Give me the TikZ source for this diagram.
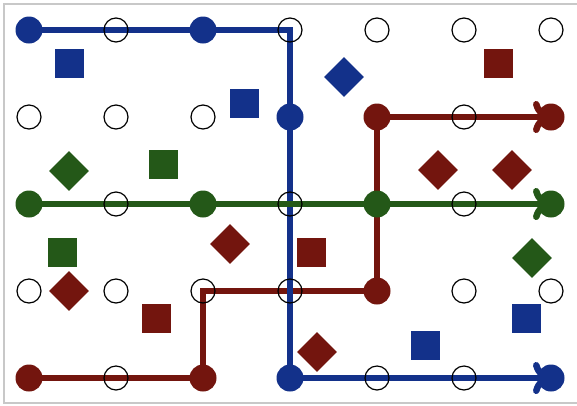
\documentclass[tikz,border=0pt]{standalone}
\usetikzlibrary{arrows.meta}
\definecolor{cblue}{RGB}{19,49,138}
\definecolor{cred}{RGB}{115,21,14}
\definecolor{cgreen}{RGB}{36,88,24}
\definecolor{frame}{RGB}{200,200,200}
\begin{document}
\begin{tikzpicture}[x=1pt,y=-1pt,
  route/.style={line width=6.5pt,draw=#1},
  arr/.style={-{Computer Modern Rightarrow[length=18pt,width=32pt,round]}},
  dot/.style={circle,fill=#1,minimum size=27pt,inner sep=0pt},
  hole/.style={circle,draw=black,line width=1.2pt,minimum size=24pt,inner sep=0pt},
  sq/.style={rectangle,fill=#1,minimum size=29pt,inner sep=0pt},
  dia/.style={rectangle,fill=#1,minimum size=28pt,inner sep=0pt,rotate=45},
]
\useasboundingbox (0,0) rectangle (577,405);
\fill[white] (0,0) rectangle (577,405);
\begin{scope}
\clip (0,0) rectangle (577,405);
\draw[frame,line width=1.6pt] (4,4) rectangle (590,403);
\end{scope}
% grid coordinates
\foreach \c in {0,...,6}{
  \foreach \r in {0,...,4}{
    \coordinate (g-\c-\r) at ({29+87*\c},{30+87*\r});
  }
}
% routes
\draw[route=cred] (g-0-4) -- (g-2-4) -- (g-2-3) -- (g-4-3);
\draw[route=cred,arr] (g-4-3) -- (g-4-1) -- (g-6-1);
\draw[route=cblue,arr] (g-0-0) -- (g-3-0) -- (g-3-4) -- (g-6-4);
\draw[route=cgreen,arr] (g-0-2) -- (g-6-2);
% empty grid points
\foreach \c/\r in {1/0,3/0,4/0,5/0,6/0,
                   0/1,1/1,2/1,5/1,
                   1/2,3/2,5/2,
                   0/3,1/3,2/3,3/3,5/3,6/3,
                   1/4,4/4,5/4}{
  \node[hole] (h-\c-\r) at (g-\c-\r) {};
}
% filled points
\foreach \c/\r in {0/0,2/0,3/1,3/4,6/4}{
  \node[dot=cblue] (b-\c-\r) at (g-\c-\r) {};
}
\foreach \c/\r in {0/2,2/2,4/2,6/2}{
  \node[dot=cgreen] (n-\c-\r) at (g-\c-\r) {};
}
\foreach \c/\r in {4/1,6/1,4/3,0/4,2/4}{
  \node[dot=cred] (r-\c-\r) at (g-\c-\r) {};
}
% squares
\node[sq=cblue] (sb1) at (69,63) {};
\node[sq=cblue] (sb2) at (244,103) {};
\node[sq=cblue] (sb3) at (425,345) {};
\node[sq=cblue] (sb4) at (526,318) {};
\node[sq=cred] (sr1) at (498.5,63.5) {};
\node[sq=cred] (sr2) at (311,252) {};
\node[sq=cred] (sr3) at (156,318) {};
\node[sq=cgreen] (sg1) at (163,164.5) {};
\node[sq=cgreen] (sg2) at (62.5,252) {};
% diamonds
\node[dia=cblue] (db1) at (344,77) {};
\node[dia=cred] (dr1) at (438,170) {};
\node[dia=cred] (dr2) at (512,170) {};
\node[dia=cred] (dr3) at (230,244) {};
\node[dia=cred] (dr4) at (69,291) {};
\node[dia=cred] (dr5) at (317,352) {};
\node[dia=cgreen] (dg1) at (69,171) {};
\node[dia=cgreen] (dg2) at (532,258) {};
\end{tikzpicture}
\end{document}
